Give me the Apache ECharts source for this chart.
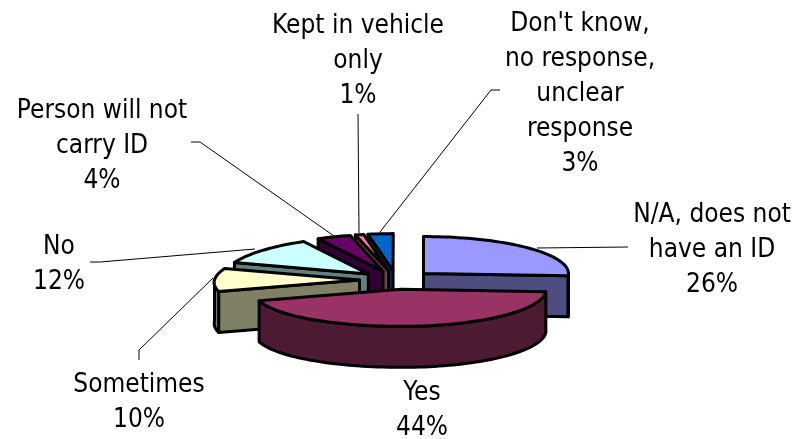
<!DOCTYPE html>
<html><head><meta charset="utf-8">
<style>html,body{margin:0;padding:0;background:#fff}#c{width:798px;height:439px}</style>
<script src="https://cdn.jsdelivr.net/npm/echarts@6/dist/echarts.min.js"></script>
</head><body><div id="c"></div>
<script>
// Data, clockwise from 12 o'clock
const categories = ['N/A, does not\nhave an ID', 'Yes', 'Sometimes', 'No', 'Person will not\ncarry ID', 'Kept in vehicle\nonly', "Don't know,\nno response,\nunclear\nresponse"];
const values = [26, 44, 10, 12, 4, 1, 3];

// Styles
const topColors = ['#9999FF', '#993366', '#FFFFCC', '#CCFFFF', '#660066', '#FF8080', '#0066CC'];
const sideColors = ['#4D4D80', '#4D1A33', '#808066', '#668080', '#330033', '#804040', '#003366'];

// Layout
const CX = 396.5, CY = 280, RX = 145, RY = 37, DEPTH = 41, EXPLODE = 0.255, PERSPECTIVE = 0.055;
const FONT = '"DejaVu Sans Condensed", "DejaVu Sans", sans-serif', FONT_SIZE = 26, LINE_H = 35;
const paintOrder = [6, 5, 4, 3, 2, 0, 1];
const labelCenters = [[712, 250], [422, 411], [139, 403], [59, 265], [102, 146], [358, 61], [580, 94]];
const leaders = [
  [[628, 247], [537, 248]],
  null,
  [[139, 360], [139, 350], [213, 278]],
  [[90, 262], [100, 262], [255, 249]],
  [[191, 142], [200, 142], [334, 236]],
  [[358, 114], [359, 233]],
  [[500, 90], [491, 90], [380, 232]]
];

const total = values.reduce((a, b) => a + b, 0);
const starts = [];
values.reduce((acc, v, i) => { starts[i] = acc; return acc + v; }, 0);
const toDeg = v => v / total * 360;
const rad = d => d * Math.PI / 180;

// slight perspective on the left half: its back is narrower than its front
function project(x, y, dy) {
  const k = x < CX ? 1 + PERSPECTIVE * (y - CY) / RY : 1;
  return [CX + (x - CX) * k, y + (dy || 0)];
}
function pt(ox, oy, deg, dy) {
  return project(ox + RX * Math.sin(rad(deg)), oy - RY * Math.cos(rad(deg)), dy);
}
function arc(ox, oy, a, b, dy) {
  const n = Math.max(2, Math.ceil(Math.abs(b - a) / 2));
  const out = [];
  for (let i = 0; i <= n; i++) out.push(pt(ox, oy, a + (b - a) * i / n, dy));
  return out;
}

function renderItem(params, api) {
  const idx = api.value(0), val = api.value(1);
  const a = toDeg(starts[idx]), b = a + toDeg(val), mid = (a + b) / 2;
  const ox = CX + RX * EXPLODE * Math.sin(rad(mid));
  const oy = CY - RY * EXPLODE * Math.cos(rad(mid));
  const line = { stroke: '#000', lineWidth: 3, lineJoin: 'round' };
  const children = [];
  const side = pts => children.push({
    type: 'polygon', shape: { points: pts },
    style: Object.assign({ fill: sideColors[idx] }, line)
  });
  const face = deg => side([
    project(ox, oy), pt(ox, oy, deg), pt(ox, oy, deg, DEPTH), project(ox, oy, DEPTH)
  ]);
  // cut faces turned towards the viewer
  if (Math.sin(rad(b)) > 0) face(b);
  if (Math.sin(rad(a)) < 0) face(a);
  // outer wall, front half only
  const wa = Math.max(a, 90), wb = Math.min(b, 270);
  if (wb > wa) side(arc(ox, oy, wa, wb).concat(arc(ox, oy, wb, wa, DEPTH)));
  // top face
  children.push({
    type: 'polygon',
    shape: { points: [project(ox, oy)].concat(arc(ox, oy, a, b)) },
    style: Object.assign({ fill: topColors[idx] }, line)
  });
  return { type: 'group', children };
}

function renderLabel(params, api) {
  const idx = api.value(0), val = api.value(1);
  const children = [];
  if (leaders[idx]) children.push({
    type: 'polyline', shape: { points: leaders[idx] },
    style: { stroke: '#000', lineWidth: 1, fill: null }
  });
  children.push({
    type: 'text', x: labelCenters[idx][0], y: labelCenters[idx][1],
    style: {
      text: categories[idx] + '\n' + Math.round(val / total * 100) + '%',
      font: FONT_SIZE + 'px ' + FONT, fill: '#000',
      align: 'center', verticalAlign: 'middle', lineHeight: LINE_H
    }
  });
  return { type: 'group', children };
}

const chart = echarts.init(document.getElementById('c'), null, { renderer: 'canvas' });
chart.setOption({
  animation: false,
  backgroundColor: '#fff',
  series: [
    { type: 'custom', coordinateSystem: 'none', silent: true, clip: false, z: 2,
      renderItem, data: paintOrder.map(i => [i, values[i]]) },
    { type: 'custom', coordinateSystem: 'none', silent: true, clip: false, z: 3,
      renderItem: renderLabel, data: values.map((v, i) => [i, v]) }
  ]
});
</script></body></html>
